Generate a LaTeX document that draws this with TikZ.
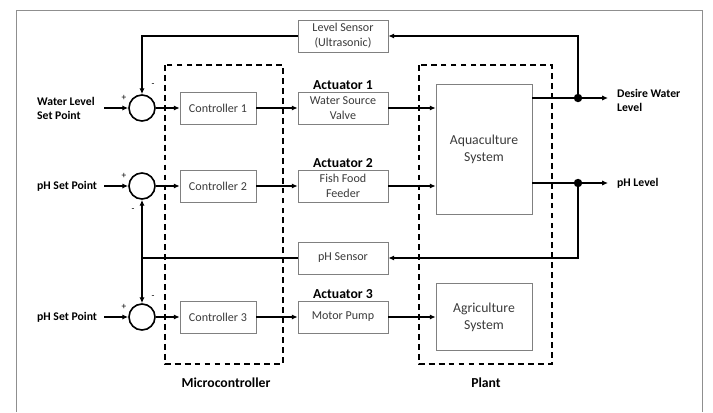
\documentclass[tikz,border=0pt]{standalone}
\usepackage{fontspec}
\setmainfont{Carlito}
\usetikzlibrary{arrows.meta, positioning, calc}
\definecolor{BoxGray}{HTML}{808080}
\definecolor{FrameGray}{HTML}{8F8F8F}
\definecolor{TextGray}{HTML}{3A3A3A}

\begin{document}
\begin{tikzpicture}[x=0.03cm, y=-0.03cm, font=\fontsize{10.3}{12.6}\selectfont,
    blk/.style={rectangle, draw=BoxGray, line width=0.6pt, text=TextGray,
                align=center, inner sep=1pt},
    sumpt/.style={circle, draw, line width=1.4pt, minimum size=0.78cm, inner sep=0pt},
    arr/.style={-{Latex[length=5pt, width=4.5pt]}, line width=1.3pt},
    ln/.style={line width=1.3pt},
    sgn/.style={font=\fontsize{8}{9}\selectfont, inner sep=0pt},
    biglbl/.style={font=\fontsize{11.7}{14}\selectfont\bfseries}]
    \useasboundingbox (0,0) rectangle (713,412);

    % Outer frame
    \draw[FrameGray, line width=0.8pt] (16,412) -- (16,10) -- (702,10) -- (702,412);

    % Dashed groups
    \draw[dashed, line width=1.2pt, dash pattern=on 5pt off 3.5pt] (165,65) rectangle (283,364);
    \draw[dashed, line width=1.2pt, dash pattern=on 5pt off 3.5pt] (419,65) rectangle (552,364);
    \node[biglbl] (microlbl) at (226,383) {Microcontroller};
    \node[biglbl] (plantlbl) at (486,383) {Plant};

    % Summing points, controllers and actuators
    \foreach \n/\y in {1/108, 2/186, 3/317} {
        \node[sumpt] (sum\n) at (142,\y) {};
        \node[blk, minimum width=2.28cm, minimum height=0.96cm] (ctrl\n) at (218,\y) {Controller \n};
        \draw[arr] (sum\n.east) -- (ctrl\n.west);
        \node[sgn] (plus\n) at (124,\y-10) {+};
    }
    \node[blk, minimum width=2.7cm, minimum height=0.96cm] (act1) at (343,108) {Water Source\\Valve};
    \node[blk, minimum width=2.7cm, minimum height=0.96cm] (act2) at (343,186) {Fish Food\\Feeder};
    \node[blk, minimum width=2.7cm, minimum height=0.96cm] (act3) at (343,317) {Motor Pump};
    \foreach \n in {1,2,3} {
        \node[biglbl, above=-2pt of act\n] (actlbl\n) {Actuator \n};
        \draw[arr] (ctrl\n.east) -- (act\n.west);
    }

    % Minus signs
    \node[sgn] (minus1) at (153,85) {-};
    \node[sgn] (minus2) at (133,210) {-};
    \node[sgn] (minus3) at (153,297) {-};

    % Set points
    \node[font=\bfseries, align=left, anchor=west] (sp1) at (33,108) {Water Level\\Set Point};
    \node[font=\bfseries, anchor=west] (sp2) at (33,186) {pH Set Point};
    \node[font=\bfseries, anchor=west] (sp3) at (33,317) {pH Set Point};
    \foreach \n in {1,2,3} {
        \coordinate (in\n) at (104,0 |- sum\n);
        \draw[arr] (in\n) -- (sum\n.west);
    }

    % Plant blocks
    \node[blk, minimum width=2.88cm, minimum height=3.9cm, font=\fontsize{11.7}{14.5}\selectfont] (aqua) at (484,149) {Aquaculture\\System};
    \node[blk, minimum width=2.88cm, minimum height=2.01cm, font=\fontsize{11.7}{14.5}\selectfont] (agri) at (484,317) {Agriculture\\System};
    \draw[arr] (act1.east) -- (act1.east -| aqua.west);
    \draw[arr] (act2.east) -- (act2.east -| aqua.west);
    \draw[arr] (act3.east) -- (agri.west);

    % Sensors
    \node[blk, minimum width=2.7cm, minimum height=0.96cm] (lvlsens) at (343,36) {Level Sensor\\(Ultrasonic)};
    \node[blk, minimum width=2.7cm, minimum height=0.96cm] (phsens) at (343,258) {pH Sensor};

    % Outputs
    \coordinate (dot1) at (578,98);
    \coordinate (dot2) at (578,183);
    \coordinate (out1) at (608,98);
    \coordinate (out2) at (608,183);
    \draw[ln] (aqua.east |- dot1) -- (dot1);
    \draw[arr] (dot1) -- (out1);
    \draw[ln] (aqua.east |- dot2) -- (dot2);
    \draw[arr] (dot2) -- (out2);
    \fill (dot1) circle (3.6pt);
    \fill (dot2) circle (3.6pt);
    \node[font=\bfseries, align=left, anchor=west] (outlbl1) at (613,100) {Desire Water\\Level};
    \node[font=\bfseries, anchor=west] (outlbl2) at (613,183) {pH Level};

    % Feedback paths
    \draw[arr] (dot1) |- (lvlsens.east);
    \draw[arr] (lvlsens.west) -| (sum1.north);
    \draw[arr] (dot2) |- (phsens.east);
    \coordinate (fbk) at (142,258);
    \draw[ln] (phsens.west) -- (fbk);
    \draw[arr] (fbk) -- (sum2.south);
    \draw[arr] (fbk) -- (sum3.north);
\end{tikzpicture}
\end{document}
